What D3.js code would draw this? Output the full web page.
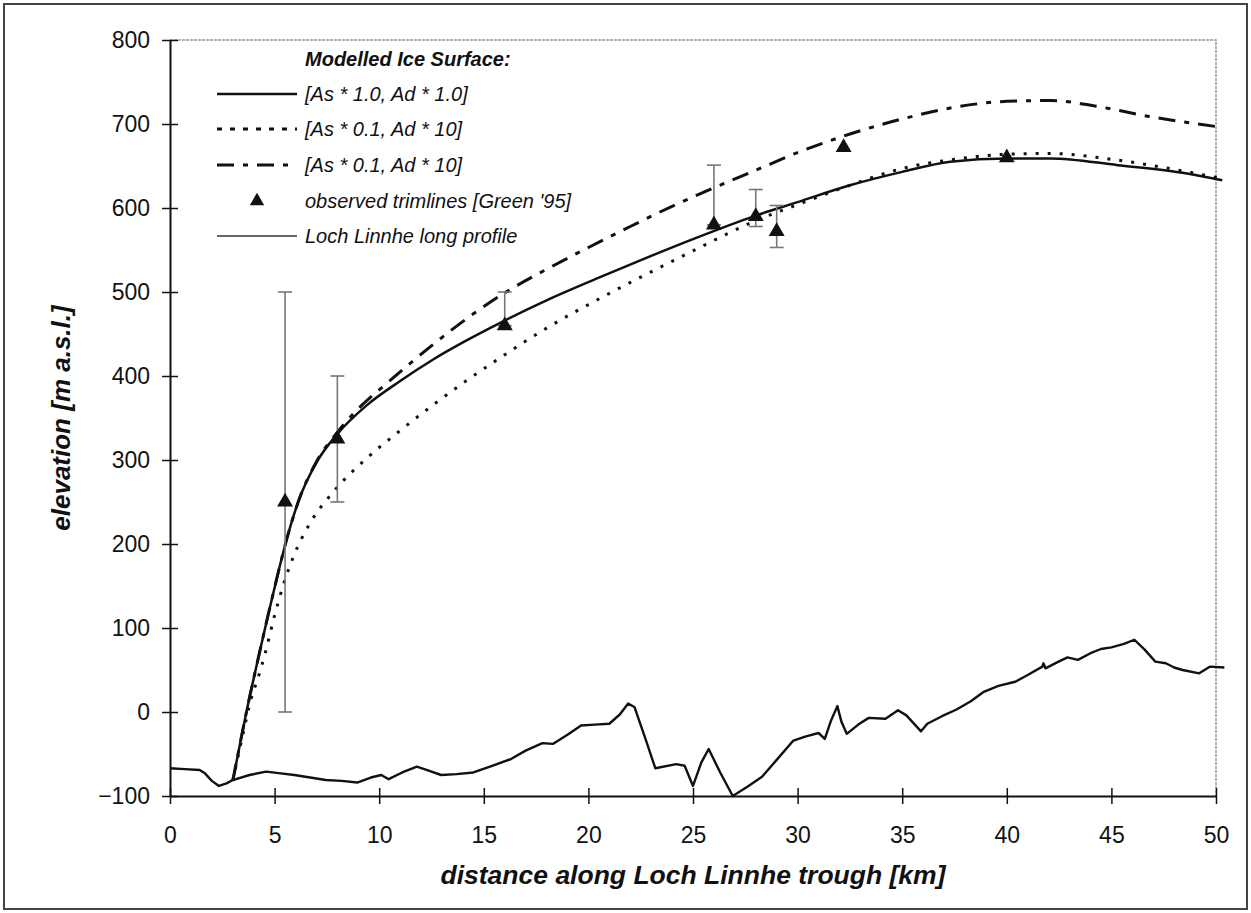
<!DOCTYPE html>
<html>
<head>
<meta charset="utf-8">
<script src="https://cdn.jsdelivr.net/npm/d3@7"></script>
<style>
  body { margin: 0; background: #fff; }
  text { font-family: "Liberation Sans", Arial, sans-serif; fill: #111; }
</style>
</head>
<body>
<div id="wrapper"></div>
<script>
// values, [distance km, elevation m]
const xTicks = [0, 5, 10, 15, 20, 25, 30, 35, 40, 45, 50];
const yTicks = [-100, 0, 100, 200, 300, 400, 500, 600, 700, 800];

// modelled ice surface [As * 1.0, Ad * 1.0]
const iceRef = [[3.0,-82],[3.3,-44],[3.67,2],[4.2,62],[4.62,108],[5.0,148],[5.26,175],[5.55,203],
  [6.2,255],[7.0,297],[8.0,331],[9.4,365],[11.0,394],[12.6,420],[14.0,440],[16.0,466],[18.0,490],
  [20.5,517],[23.0,543],[25.0,563],[28.0,591],[30.0,607],[32.5,627],[35.0,643],[37.3,655],
  [40.0,659],[42.1,659],[45.3,651],[48.4,642],[50.3,633]];

// dotted [As * 0.1, Ad * 10]
const iceDot = [[3.0,-82],[3.5,-25],[3.9,18],[4.2,40],[4.55,70],[5.0,115],[5.4,150],[5.9,185],
  [6.7,225],[7.8,262],[9.4,302],[11.0,335],[12.6,366],[14.2,395],[15.8,422],[18.0,457],[20.6,493],
  [23.0,524],[25.0,549],[28.0,585],[30.0,604],[32.5,627],[35.0,647],[37.5,658],[40.0,664],
  [42.0,665],[45.0,658],[48.0,646],[50.3,635]];

// dash-dot [As * 0.1, Ad * 10]
const iceDash = [[3.0,-82],[3.3,-44],[3.67,2],[4.2,62],[4.62,108],[5.0,148],[5.26,175],[5.55,203],
  [6.2,255],[7.0,298],[8.0,333],[9.0,361],[10.4,392],[12.6,438],[14.5,474],[16.0,499],[18.0,527],
  [20.0,553],[22.0,578],[24.0,602],[26.0,624],[28.0,645],[30.0,666],[32.0,684],[33.0,692],
  [35.0,706],[37.3,719],[40.0,727],[42.1,728],[44.3,721],[46.8,709],[50.0,697]];

// observed trimlines [Green '95] with ranges
const trimKm   = [5.5, 8, 16, 26, 28, 29, 32.2, 40];
const trimElev = [250, 325, 460, 580, 590, 572, 672, 660];
const trimLow  = [0, 250, 460, 580, 578, 553, null, null];
const trimHigh = [500, 400, 500, 651, 622, 603, null, null];

// Loch Linnhe long profile
const profile = [[0,-67],[0.7,-68],[1.42,-69],[1.67,-73],[2.0,-82],[2.34,-88],[2.7,-85],[3.0,-81],
  [3.8,-75],[4.6,-71],[5.3,-73],[5.94,-75],[6.7,-78],[7.44,-81],[8.2,-82],[8.95,-84],[9.6,-78],
  [10.1,-75],[10.45,-80],[11.1,-72],[11.8,-65],[12.4,-70],[12.96,-75],[13.7,-74],[14.5,-72],
  [15.4,-64],[16.3,-56],[17.0,-46],[17.8,-37],[18.3,-38],[19.0,-27],[19.65,-16],[20.3,-15],
  [21.0,-14],[21.5,-3],[21.9,10],[22.2,6],[22.7,-30],[23.2,-67],[24.2,-62],[24.6,-64],[25.0,-88],
  [25.4,-60],[25.75,-44],[26.3,-72],[26.9,-100],[27.6,-89],[28.3,-77],[29.0,-57],[29.8,-34],
  [30.4,-29],[31.0,-25],[31.3,-32],[31.6,-10],[31.9,7],[32.1,-12],[32.35,-26],[32.9,-15],
  [33.4,-7],[34.2,-8],[34.8,2],[35.2,-4],[35.9,-23],[36.2,-14],[36.9,-5],[37.6,3],[38.3,13],
  [38.9,24],[39.6,31],[40.4,36],[41.0,44],[41.7,54],[41.75,58],[41.85,52],[42.4,59],[42.9,65],
  [43.4,62],[44.0,70],[44.5,75],[45.0,77],[45.6,81],[46.1,86],[46.6,74],[47.1,60],[47.6,58],
  [48.0,53],[48.4,50],[49.2,46],[49.7,54],[50.4,53]];

const legendTitle = "Modelled Ice Surface:";
const legendLabels = ["[As * 1.0, Ad * 1.0]", "[As * 0.1, Ad * 10]", "[As * 0.1, Ad * 10]",
  "observed trimlines [Green '95]", "Loch Linnhe long profile"];

const width = 1251, height = 913;
const margin = { top: 40, left: 170, right: 35, bottom: 117 };

const svg = d3.select("#wrapper").append("svg")
  .attr("width", width)
  .attr("height", height);

svg.append("rect")
  .attr("x", 4).attr("y", 4)
  .attr("width", width - 8).attr("height", height - 8)
  .attr("fill", "#fff")
  .attr("stroke", "#444")
  .attr("stroke-width", 2);

const x = d3.scaleLinear().domain([0, 50]).range([margin.left, width - margin.right]);
const y = d3.scaleLinear().domain([-100, 800]).range([height - margin.bottom, margin.top]);

// top and right frame (grey, dotted look)
svg.append("path")
  .attr("d", `M${x(0)},${y(800)}H${x(50)}V${y(-100)}`)
  .attr("fill", "none")
  .attr("stroke", "#999")
  .attr("stroke-width", 1.5)
  .attr("stroke-dasharray", "3,1");

// axes
const yAxis = svg.append("g")
  .attr("transform", `translate(${x(0)},0)`)
  .call(d3.axisLeft(y).tickValues(yTicks).tickSize(8).tickPadding(12).tickSizeOuter(0));
yAxis.selectAll(".tick line").attr("x2", 8).attr("x1", -8).attr("stroke", "#111").attr("stroke-width", 1.5);
yAxis.select(".domain").attr("stroke", "#111").attr("stroke-width", 2);
yAxis.selectAll("text").style("font-size", "23px").attr("fill", "#111");

const xAxis = svg.append("g")
  .attr("transform", `translate(0,${y(-100)})`)
  .call(d3.axisBottom(x).tickValues(xTicks).tickSize(8).tickPadding(23).tickSizeOuter(0));
xAxis.selectAll(".tick line").attr("y1", -8).attr("y2", 8).attr("stroke", "#111").attr("stroke-width", 1.5);
xAxis.select(".domain").attr("stroke", "#111").attr("stroke-width", 2);
xAxis.selectAll("text").style("font-size", "23px").attr("fill", "#111");

// axis titles
svg.append("text")
  .attr("x", (x(0) + x(50)) / 2)
  .attr("y", 884)
  .attr("text-anchor", "middle")
  .style("font-size", "26.5px")
  .style("font-weight", "bold")
  .style("font-style", "italic")
  .text("distance along Loch Linnhe trough [km]");

svg.append("text")
  .attr("transform", "translate(70,418) rotate(-90)")
  .attr("text-anchor", "middle")
  .style("font-size", "26px")
  .style("font-weight", "bold")
  .style("font-style", "italic")
  .text("elevation [m a.s.l.]");

const line = d3.line().x(d => x(d[0])).y(d => y(d[1]));
const smooth = d3.line().x(d => x(d[0])).y(d => y(d[1])).curve(d3.curveMonotoneX);

// long profile
svg.append("path")
  .attr("d", line(profile))
  .attr("fill", "none")
  .attr("stroke", "#111")
  .attr("stroke-width", 2.4)
  .attr("stroke-linejoin", "round");

// modelled surfaces
svg.append("path")
  .attr("d", smooth(iceDot))
  .attr("fill", "none")
  .attr("stroke", "#111")
  .attr("stroke-width", 3)
  .attr("stroke-dasharray", "3,9");

svg.append("path")
  .attr("d", smooth(iceDash))
  .attr("fill", "none")
  .attr("stroke", "#111")
  .attr("stroke-width", 3)
  .attr("stroke-dasharray", "17,9,5,9");

svg.append("path")
  .attr("d", smooth(iceRef))
  .attr("fill", "none")
  .attr("stroke", "#111")
  .attr("stroke-width", 2.5);

// error bars
const bars = svg.append("g").attr("stroke", "#777").attr("stroke-width", 1.6);
trimKm.forEach((km, i) => {
  if (trimLow[i] == null) return;
  bars.append("line")
    .attr("x1", x(km)).attr("x2", x(km))
    .attr("y1", y(trimLow[i])).attr("y2", y(trimHigh[i]));
  [trimLow[i], trimHigh[i]].forEach(v => {
    bars.append("line")
      .attr("x1", x(km) - 7).attr("x2", x(km) + 7)
      .attr("y1", y(v)).attr("y2", y(v));
  });
});

// trimline markers
const tri = d3.symbol().type(d3.symbolTriangle).size(110);
svg.append("g").selectAll("path")
  .data(trimKm)
  .join("path")
  .attr("transform", (d, i) => `translate(${x(d)},${y(trimElev[i])})`)
  .attr("d", tri)
  .attr("fill", "#111");

// legend
const legend = svg.append("g");
legend.append("text")
  .attr("x", 305).attr("y", 66)
  .style("font-size", "20px")
  .style("font-weight", "bold")
  .style("font-style", "italic")
  .text(legendTitle);

const rowY = [94, 129, 165, 201, 236];
const sampleStyles = [
  { w: 2.5, dash: null, c: "#111" },
  { w: 3, dash: "5,8", c: "#111" },
  { w: 3, dash: "17,9,5,9", c: "#111" },
  null,
  { w: 1.6, dash: null, c: "#333" }
];
legendLabels.forEach((lab, i) => {
  const s = sampleStyles[i];
  if (s) {
    legend.append("line")
      .attr("x1", 217).attr("x2", 297)
      .attr("y1", rowY[i]).attr("y2", rowY[i])
      .attr("stroke", s.c)
      .attr("stroke-width", s.w)
      .attr("stroke-dasharray", s.dash);
  } else {
    legend.append("path")
      .attr("transform", `translate(257,${rowY[i]})`)
      .attr("d", d3.symbol().type(d3.symbolTriangle).size(90))
      .attr("fill", "#111");
  }
  legend.append("text")
    .attr("x", 305).attr("y", rowY[i] + 7)
    .style("font-size", "20px")
    .style("font-style", "italic")
    .text(lab);
});
</script>
</body>
</html>
